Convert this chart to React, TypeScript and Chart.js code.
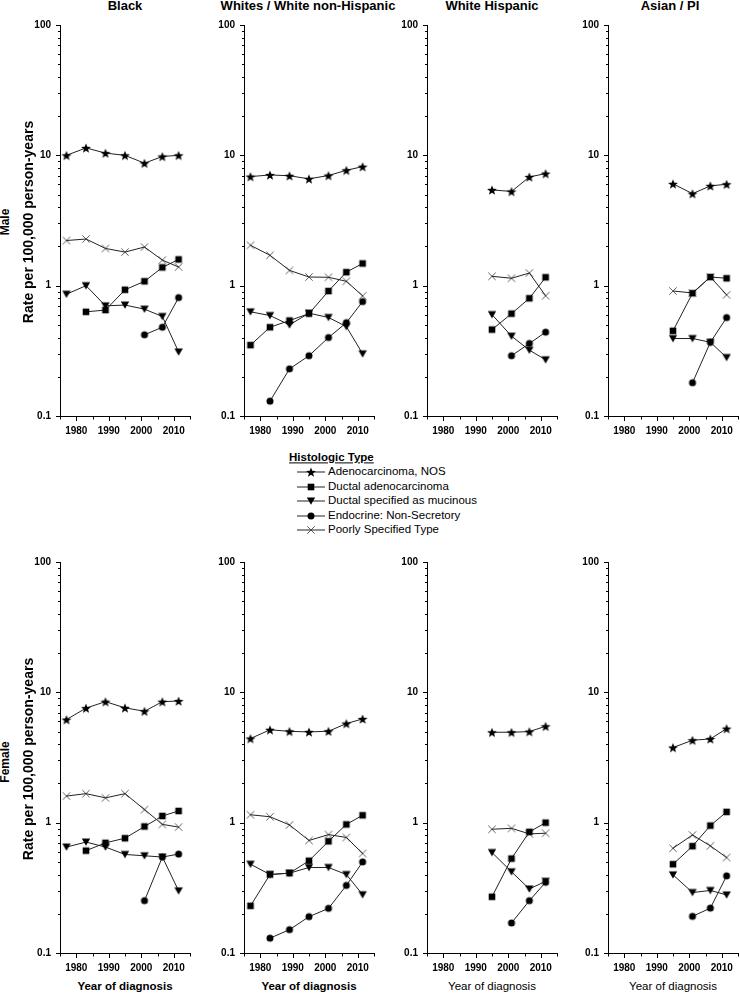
import React, { useEffect, useRef } from 'react';
import { Chart, registerables } from 'chart.js';

Chart.register(...registerables);

// ---------- data ----------
const YEARS = [1977, 1983, 1989, 1995, 2001, 2006.5, 2011.5];
const X_TICKS = [1975, 1980, 1985, 1990, 1995, 2000, 2005, 2010, 2015];
const X_LABELS = [1980, 1990, 2000, 2010];
const Y_MAJOR = [0.1, 1, 10, 100];
const Y_TICKS = [
  0.1, 0.2, 0.3, 0.4, 0.5, 0.6, 0.7, 0.8, 0.9,
  1, 2, 3, 4, 5, 6, 7, 8, 9,
  10, 20, 30, 40, 50, 60, 70, 80, 90, 100,
];
const SERIES_NAMES = [
  'Adenocarcinoma, NOS',
  'Ductal adenocarcinoma',
  'Ductal specified as mucinous',
  'Endocrine: Non-Secretory',
  'Poorly Specified Type',
];
const RACE_TITLES = ['Black', 'Whites / White non-Hispanic', 'White Hispanic', 'Asian / PI'];

type V = (number | null)[];

// Male
const BLACK_M_ADENO: V = [10.0, 11.4, 10.4, 10.0, 8.7, 9.8, 10.0];
const BLACK_M_DUCTAL: V = [null, 0.63, 0.65, 0.93, 1.08, 1.38, 1.59];
const BLACK_M_MUCIN: V = [0.86, 1.0, 0.7, 0.71, 0.66, 0.58, 0.31];
const BLACK_M_ENDO: V = [null, null, null, null, 0.42, 0.48, 0.81];
const BLACK_M_POOR: V = [2.22, 2.28, 1.93, 1.81, 1.98, 1.57, 1.39];

const WHITE_M_ADENO: V = [6.87, 7.07, 6.97, 6.6, 7.0, 7.68, 8.19];
const WHITE_M_DUCTAL: V = [0.35, 0.48, 0.54, 0.61, 0.91, 1.27, 1.48];
const WHITE_M_MUCIN: V = [0.63, 0.59, 0.5, 0.615, 0.57, 0.485, 0.3];
const WHITE_M_ENDO: V = [null, 0.13, 0.23, 0.29, 0.4, 0.52, 0.755];
const WHITE_M_POOR: V = [2.04, 1.71, 1.31, 1.165, 1.16, 1.08, 0.835];

const HISP_M_ADENO: V = [null, null, null, 5.43, 5.28, 6.83, 7.24];
const HISP_M_DUCTAL: V = [null, null, null, 0.46, 0.61, 0.8, 1.16];
const HISP_M_MUCIN: V = [null, null, null, 0.6, 0.41, 0.32, 0.27];
const HISP_M_ENDO: V = [null, null, null, null, 0.29, 0.36, 0.44];
const HISP_M_POOR: V = [null, null, null, 1.18, 1.14, 1.25, 0.836];

const ASIAN_M_ADENO: V = [null, null, null, 6.04, 5.08, 5.83, 6.0];
const ASIAN_M_DUCTAL: V = [null, null, null, 0.45, 0.875, 1.165, 1.14];
const ASIAN_M_MUCIN: V = [null, null, null, 0.393, 0.393, 0.368, 0.281];
const ASIAN_M_ENDO: V = [null, null, null, null, 0.18, 0.368, 0.569];
const ASIAN_M_POOR: V = [null, null, null, 0.91, 0.879, 1.165, 0.85];

// Female
const BLACK_F_ADENO: V = [6.18, 7.57, 8.48, 7.6, 7.16, 8.48, 8.58];
const BLACK_F_DUCTAL: V = [null, 0.61, 0.7, 0.76, 0.935, 1.125, 1.23];
const BLACK_F_MUCIN: V = [0.65, 0.71, 0.65, 0.57, 0.557, 0.545, 0.3];
const BLACK_F_ENDO: V = [null, null, null, null, 0.252, 0.545, 0.574];
const BLACK_F_POOR: V = [1.6, 1.67, 1.55, 1.67, 1.26, 0.97, 0.925];

const WHITE_F_ADENO: V = [4.42, 5.16, 5.02, 4.97, 5.03, 5.76, 6.25];
const WHITE_F_DUCTAL: V = [0.23, 0.4, 0.41, 0.51, 0.72, 0.97, 1.14];
const WHITE_F_MUCIN: V = [0.48, 0.4, 0.41, 0.453, 0.453, 0.4, 0.28];
const WHITE_F_ENDO: V = [null, 0.13, 0.151, 0.19, 0.22, 0.33, 0.5];
const WHITE_F_POOR: V = [1.15, 1.11, 0.96, 0.73, 0.81, 0.77, 0.58];

const HISP_F_ADENO: V = [null, null, null, 4.94, 4.94, 5.0, 5.49];
const HISP_F_DUCTAL: V = [null, null, null, 0.27, 0.53, 0.85, 1.0];
const HISP_F_MUCIN: V = [null, null, null, 0.59, 0.42, 0.31, 0.355];
const HISP_F_ENDO: V = [null, null, null, null, 0.17, 0.252, 0.349];
const HISP_F_POOR: V = [null, null, null, 0.89, 0.905, 0.82, 0.83];

const ASIAN_F_ADENO: V = [null, null, null, 3.77, 4.29, 4.39, 5.27];
const ASIAN_F_DUCTAL: V = [null, null, null, 0.48, 0.66, 0.95, 1.21];
const ASIAN_F_MUCIN: V = [null, null, null, 0.398, 0.291, 0.302, 0.279];
const ASIAN_F_ENDO: V = [null, null, null, null, 0.191, 0.221, 0.391];
const ASIAN_F_POOR: V = [null, null, null, 0.636, 0.805, 0.663, 0.54];

const MALE_PANELS: V[][] = [
  [BLACK_M_ADENO, BLACK_M_DUCTAL, BLACK_M_MUCIN, BLACK_M_ENDO, BLACK_M_POOR],
  [WHITE_M_ADENO, WHITE_M_DUCTAL, WHITE_M_MUCIN, WHITE_M_ENDO, WHITE_M_POOR],
  [HISP_M_ADENO, HISP_M_DUCTAL, HISP_M_MUCIN, HISP_M_ENDO, HISP_M_POOR],
  [ASIAN_M_ADENO, ASIAN_M_DUCTAL, ASIAN_M_MUCIN, ASIAN_M_ENDO, ASIAN_M_POOR],
];
const FEMALE_PANELS: V[][] = [
  [BLACK_F_ADENO, BLACK_F_DUCTAL, BLACK_F_MUCIN, BLACK_F_ENDO, BLACK_F_POOR],
  [WHITE_F_ADENO, WHITE_F_DUCTAL, WHITE_F_MUCIN, WHITE_F_ENDO, WHITE_F_POOR],
  [HISP_F_ADENO, HISP_F_DUCTAL, HISP_F_MUCIN, HISP_F_ENDO, HISP_F_POOR],
  [ASIAN_F_ADENO, ASIAN_F_DUCTAL, ASIAN_F_MUCIN, ASIAN_F_ENDO, ASIAN_F_POOR],
];

// ---------- layout ----------
const FONT = '"Liberation Sans", Arial, Helvetica, sans-serif';
const AXIS_LEFTS = [60, 244, 427, 608];
const ROW_TOPS = [24, 561]; // pixel of y = 100
const PLOT_W = 130;
const PLOT_H = 392;
const Y_AXIS_W = 40;
const X_AXIS_H = 26;
const PAD_TOP = 10;
const PAD_RIGHT = 8;
const CANVAS_W = Y_AXIS_W + PLOT_W + PAD_RIGHT;
const CANVAS_H = PAD_TOP + PLOT_H + X_AXIS_H;
const MARKER_KINDS = ['star', 'square', 'tri', 'circle', 'cross'];
const LINE_COLOR = '#222';
const LINE_W = 1;

function makeMarker(kind: string): HTMLCanvasElement {
  const c = document.createElement('canvas');
  const s = kind === 'star' ? 12 : 10;
  c.width = s;
  c.height = s;
  const g = c.getContext('2d')!;
  const m = s / 2;
  g.fillStyle = '#000';
  if (kind === 'star') {
    g.beginPath();
    for (let i = 0; i < 10; i++) {
      const r = i % 2 === 0 ? 5.2 : 2.2;
      const a = -Math.PI / 2 + (i * Math.PI) / 5;
      g.lineTo(m + r * Math.cos(a), m + 0.6 + r * Math.sin(a));
    }
    g.closePath();
    g.fill();
  } else if (kind === 'square') {
    g.fillRect(m - 3.3, m - 3.3, 6.6, 6.6);
  } else if (kind === 'tri') {
    g.beginPath();
    g.moveTo(m - 4.2, m - 3.4);
    g.lineTo(m + 4.2, m - 3.4);
    g.lineTo(m, m + 3.8);
    g.closePath();
    g.fill();
  } else if (kind === 'circle') {
    g.beginPath();
    g.arc(m, m, 3.5, 0, Math.PI * 2);
    g.fill();
  } else {
    g.strokeStyle = '#333';
    g.lineWidth = 0.8;
    g.beginPath();
    g.moveTo(m - 3.7, m - 3.7);
    g.lineTo(m + 3.7, m + 3.7);
    g.moveTo(m + 3.7, m - 3.7);
    g.lineTo(m - 3.7, m + 3.7);
    g.stroke();
  }
  return c;
}

const tickPlugin = {
  id: 'customTicks',
  afterDraw(chart: any) {
    const ctx = chart.ctx;
    const xs = chart.scales.x;
    const ys = chart.scales.y;
    const a = chart.chartArea;
    ctx.save();
    ctx.strokeStyle = '#000';
    ctx.lineWidth = 1;
    ctx.beginPath();
    Y_TICKS.forEach((v) => {
      const py = Math.round(ys.getPixelForValue(v)) + 0.5;
      const len = Y_MAJOR.includes(v) ? 4.5 : 2.5;
      ctx.moveTo(a.left + 0.5 - len, py);
      ctx.lineTo(a.left + 0.5, py);
    });
    X_TICKS.forEach((v) => {
      const px = Math.round(xs.getPixelForValue(v)) + 0.5;
      const len = X_LABELS.includes(v) ? 4.5 : 3;
      ctx.moveTo(px, a.bottom + 0.5);
      ctx.lineTo(px, a.bottom + 0.5 + len);
    });
    ctx.stroke();
    ctx.restore();
  },
};

function Panel({ left, top, series }: { left: number; top: number; series: V[] }) {
  const ref = useRef<HTMLCanvasElement>(null);
  useEffect(() => {
    const markers = MARKER_KINDS.map(makeMarker);
    const tickFont = { family: FONT, size: 10, weight: 'bold' as const };
    const chart = new Chart(ref.current!, {
      type: 'line',
      data: {
        datasets: series.map((vals, si) => ({
          label: SERIES_NAMES[si],
          data: YEARS.map((x, i) => ({ x, y: vals[i] })).filter((p) => p.y !== null) as any,
          borderColor: LINE_COLOR,
          borderWidth: LINE_W,
          pointStyle: markers[si] as any,
          pointRadius: 4,
          pointHoverRadius: 4,
          fill: false,
          tension: 0,
        })),
      },
      options: {
        animation: false,
        responsive: false,
        maintainAspectRatio: false,
        events: [],
        layout: { padding: { top: PAD_TOP, right: PAD_RIGHT, left: 0, bottom: 0 } },
        plugins: { legend: { display: false }, tooltip: { enabled: false } },
        scales: {
          x: {
            type: 'linear',
            min: 1975,
            max: 2015,
            afterBuildTicks: (s: any) => {
              s.ticks = X_TICKS.map((v) => ({ value: v }));
            },
            afterFit: (s: any) => {
              s.height = X_AXIS_H;
            },
            grid: { drawOnChartArea: false, drawTicks: true, tickLength: 4, tickColor: 'rgba(0,0,0,0)' },
            border: { display: true, color: '#000', width: 1 },
            ticks: {
              autoSkip: false,
              maxRotation: 0,
              padding: 5,
              color: '#000',
              font: tickFont,
              callback: (v: any) => (X_LABELS.includes(Number(v)) ? String(v) : ''),
            },
          },
          y: {
            type: 'logarithmic',
            min: 0.1,
            max: 100,
            afterBuildTicks: (s: any) => {
              s.ticks = Y_TICKS.map((v) => ({ value: v }));
            },
            afterFit: (s: any) => {
              s.width = Y_AXIS_W;
            },
            grid: { drawOnChartArea: false, drawTicks: true, tickLength: 4, tickColor: 'rgba(0,0,0,0)' },
            border: { display: true, color: '#000', width: 1 },
            ticks: {
              autoSkip: false,
              padding: 5,
              color: '#000',
              font: tickFont,
              callback: (v: any) => {
                const n = Number(v);
                if (!Y_MAJOR.includes(n)) return '';
                return n === 0.1 ? '0.1' : String(n);
              },
            },
          },
        },
      },
      plugins: [tickPlugin],
    });
    return () => chart.destroy();
  }, []);
  return (
    <canvas
      ref={ref}
      width={CANVAS_W}
      height={CANVAS_H}
      style={{ position: 'absolute', left: left - Y_AXIS_W, top: top - PAD_TOP, width: CANVAS_W, height: CANVAS_H }}
    />
  );
}

function Text({
  x, y, children, size, bold, rotate, underline, align,
}: {
  x: number; y: number; children: React.ReactNode; size: number; bold?: boolean; rotate?: boolean; underline?: boolean; align?: 'left' | 'center';
}) {
  const tx = align === 'left' ? '0' : '-50%';
  return (
    <div
      style={{
        position: 'absolute',
        left: x,
        top: y,
        transform: `translate(${tx}, -50%)${rotate ? ' rotate(-90deg)' : ''}`,
        transformOrigin: rotate ? 'center center' : undefined,
        whiteSpace: 'nowrap',
        fontFamily: FONT,
        fontSize: size,
        fontWeight: bold ? 'bold' : 'normal',
        textDecoration: underline ? 'underline' : 'none',
        lineHeight: 1.15,
        color: '#000',
      }}
    >
      {children}
    </div>
  );
}

function LegendSample({ kind }: { kind: string }) {
  const c = 15;
  let mark: React.ReactNode = null;
  if (kind === 'star') {
    const pts: string[] = [];
    for (let i = 0; i < 10; i++) {
      const r = i % 2 === 0 ? 5.2 : 2.2;
      const a = -Math.PI / 2 + (i * Math.PI) / 5;
      pts.push(`${c + r * Math.cos(a)},${7.6 + r * Math.sin(a)}`);
    }
    mark = <polygon points={pts.join(' ')} fill="#000" />;
  } else if (kind === 'square') {
    mark = <rect x={c - 3.3} y={7 - 3.3} width={6.6} height={6.6} fill="#000" />;
  } else if (kind === 'tri') {
    mark = <polygon points={`${c - 4.2},${7 - 3.4} ${c + 4.2},${7 - 3.4} ${c},${7 + 3.8}`} fill="#000" />;
  } else if (kind === 'circle') {
    mark = <circle cx={c} cy={7} r={3.5} fill="#000" />;
  } else {
    mark = (
      <path d={`M${c - 3.7},${7 - 3.7}L${c + 3.7},${7 + 3.7}M${c + 3.7},${7 - 3.7}L${c - 3.7},${7 + 3.7}`} stroke="#333" strokeWidth={0.8} />
    );
  }
  return (
    <svg width={30} height={14} style={{ display: 'block' }}>
      <line x1={1} y1={7} x2={29} y2={7} stroke={LINE_COLOR} strokeWidth={LINE_W} />
      {mark}
    </svg>
  );
}

const LEGEND_YS = [472, 486.5, 501, 515.5, 530];
const TITLE_XS = [125, 308, 492, 670];

export default function App() {
  return (
    <div
      style={{
        position: 'absolute',
        left: 0,
        top: 0,
        width: 740,
        height: 993,
        overflow: 'hidden',
        background: '#fff',
      }}
    >
      {RACE_TITLES.map((t, i) => (
        <Text key={t} x={TITLE_XS[i]} y={6} size={13} bold>
          {t}
        </Text>
      ))}

      {MALE_PANELS.map((s, i) => (
        <Panel key={'m' + i} left={AXIS_LEFTS[i]} top={ROW_TOPS[0]} series={s} />
      ))}
      {FEMALE_PANELS.map((s, i) => (
        <Panel key={'f' + i} left={AXIS_LEFTS[i]} top={ROW_TOPS[1]} series={s} />
      ))}

      <Text x={6} y={222} size={12} bold rotate>
        Male
      </Text>
      <Text x={28} y={222} size={14} bold rotate>
        Rate per 100,000 person-years
      </Text>
      <Text x={6} y={762} size={12} bold rotate>
        Female
      </Text>
      <Text x={28} y={759} size={14} bold rotate>
        Rate per 100,000 person-years
      </Text>

      {AXIS_LEFTS.map((l, i) => (
        <Text key={'xt' + i} x={l + PLOT_W / 2} y={987} size={11.5} bold={i < 2}>
          Year of diagnosis
        </Text>
      ))}

      <Text x={289} y={458} size={11.5} bold underline align="left">
        Histologic Type
      </Text>
      {SERIES_NAMES.map((name, i) => (
        <React.Fragment key={name}>
          <div style={{ position: 'absolute', left: 296, top: LEGEND_YS[i] - 7 }}>
            <LegendSample kind={MARKER_KINDS[i]} />
          </div>
          <Text x={328} y={LEGEND_YS[i]} size={11.5} align="left">
            {name}
          </Text>
        </React.Fragment>
      ))}
    </div>
  );
}
